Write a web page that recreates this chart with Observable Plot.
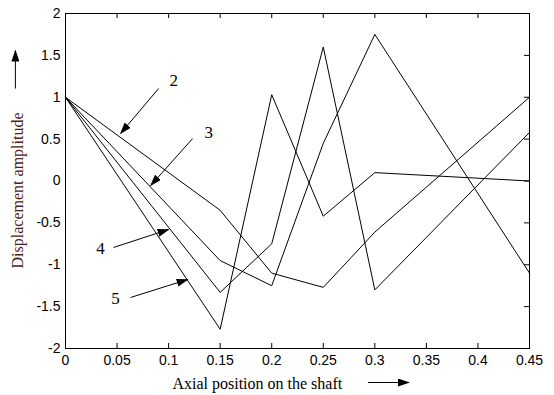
<!DOCTYPE html>
<html>
<head>
<meta charset="utf-8">
<script src="https://cdn.jsdelivr.net/npm/d3@7"></script>
<script src="https://cdn.jsdelivr.net/npm/@observablehq/plot@0.6"></script>
<style>
  body { margin: 0; background: white; }
</style>
</head>
<body>
<div id="chart"></div>
<script>
// Tick values
const xTicks = [0, 0.05, 0.1, 0.15, 0.2, 0.25, 0.3, 0.35, 0.4, 0.45];
const yTicks = [-2, -1.5, -1, -0.5, 0, 0.5, 1, 1.5, 2];

// Axial positions (x) of the vertices
const positions = [0, 0.15, 0.2, 0.25, 0.3, 0.45];

// Displacement amplitude of each mode shape
const mode2 = [1, -0.35, -1.1, -1.27, -0.61, 1.0];
const mode3 = [1, -0.95, -1.25, 0.45, 1.75, -1.1];
const mode4 = [1, -1.33, -0.75, 1.6, -1.3, 0.58];
const mode5 = [1, -1.77, 1.03, -0.42, 0.1, 0.0];
const modeNames = ["2", "3", "4", "5"];

// Annotation labels and arrows (data coordinates)
const labelText = ["2", "3", "4", "5"];
const labelX = [0.1049, 0.1389, 0.034, 0.0486];
const labelY = [1.2, 0.579, -0.806, -1.403];
const arrowX1 = [0.0903, 0.1233, 0.0466, 0.0631];
const arrowY1 = [1.104, 0.507, -0.794, -1.391];
const arrowX2 = [0.0534, 0.0826, 0.1, 0.1185];
const arrowY2 = [0.567, -0.054, -0.579, -1.176];

// Axis titles and their direction arrows
const xTitle = "Axial position on the shaft";
const yTitle = "Displacement amplitude";
const titleX = [0.186, -0.0466];
const titleY = [-2.418, -0.113];
const axisArrowX1 = [0.2933, -0.0486];
const axisArrowY1 = [-2.406, 1.104];
const axisArrowX2 = [0.3331, -0.0486];
const axisArrowY2 = [-2.406, 1.558];

const modes = [mode2, mode3, mode4, mode5];
const lineData = modes.flatMap((vals, i) =>
  vals.map((v, j) => ({mode: modeNames[i], x: positions[j], y: v}))
);
const labels = labelText.map((t, i) => ({t, x: labelX[i], y: labelY[i]}));
const arrows = labelText.map((t, i) => ({x1: arrowX1[i], y1: arrowY1[i], x2: arrowX2[i], y2: arrowY2[i]}))
  .concat(axisArrowX1.map((_, i) => ({x1: axisArrowX1[i], y1: axisArrowY1[i], x2: axisArrowX2[i], y2: axisArrowY2[i]})));

const W = 554, H = 395;
const mL = 65, mR = 25, mT = 13, mB = 47;
const plotW = W - mL - mR, plotH = H - mT - mB;
const serif = "'Liberation Serif', 'Times New Roman', serif";

const chart = Plot.plot({
  width: W,
  height: H,
  marginLeft: mL,
  marginRight: mR,
  marginTop: mT,
  marginBottom: mB,
  style: {fontFamily: "'Liberation Sans', Arial, sans-serif", fontSize: "14px", background: "white", color: "black"},
  x: {domain: [0, 0.45], ticks: xTicks, tickSize: 0, tickPadding: 7, tickFormat: d => String(d), label: null},
  y: {domain: [-2, 2], ticks: yTicks, tickSize: 0, tickPadding: 5, tickFormat: d => String(d), label: null},
  marks: [
    Plot.frame({stroke: "black"}),
    Plot.tickX(xTicks, {x: d => d, insetTop: plotH - 5, stroke: "black"}),
    Plot.tickX(xTicks, {x: d => d, insetBottom: plotH - 5, stroke: "black"}),
    Plot.tickY(yTicks, {y: d => d, insetLeft: plotW - 5, stroke: "black"}),
    Plot.line(lineData, {x: "x", y: "y", z: "mode", stroke: "black", strokeWidth: 1}),
    Plot.link(arrows, {x1: "x1", y1: "y1", x2: "x2", y2: "y2", stroke: "black", strokeWidth: 1}),
    Plot.text(labels, {x: "x", y: "y", text: "t", fontFamily: serif, fontSize: 17, fill: "black"}),
    Plot.text([xTitle], {x: () => titleX[0], y: () => titleY[0], text: d => d, fontFamily: serif, fontSize: 16, fill: "black"}),
    Plot.text([yTitle], {x: () => titleX[1], y: () => titleY[1], text: d => d, rotate: -90, fontFamily: serif, fontSize: 16, fill: "#4a2222"})
  ]
});

// Filled arrowheads for the link mark
const svg = d3.select(chart);
svg.insert("defs", ":first-child")
  .append("marker")
  .attr("id", "filledArrow")
  .attr("viewBox", "0 0 12 8")
  .attr("refX", 11)
  .attr("refY", 4)
  .attr("markerWidth", 12)
  .attr("markerHeight", 8)
  .attr("markerUnits", "userSpaceOnUse")
  .attr("orient", "auto")
  .append("path")
  .attr("d", "M0,0L12,4L0,8Z")
  .attr("fill", "black");
svg.selectAll('g[aria-label="link"] path').attr("marker-end", "url(#filledArrow)");

document.getElementById("chart").appendChild(chart);
</script>
</body>
</html>
